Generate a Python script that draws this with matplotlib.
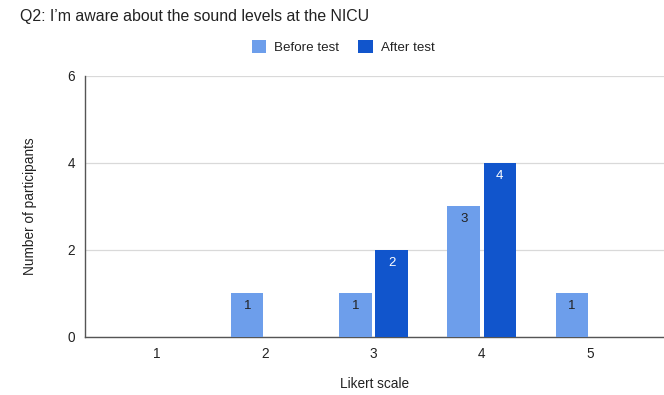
import matplotlib
matplotlib.use("Agg")
import matplotlib.pyplot as plt
import numpy as np

plt.rcParams['font.family'] = ['Liberation Sans', 'DejaVu Sans']

categories = ["1", "2", "3", "4", "5"]
before = [0, 1, 1, 3, 1]
after = [0, 0, 2, 4, 0]
yticks = [0, 2, 4, 6]

before_color = "#6d9eeb"
after_color = "#1155cc"

fig = plt.figure(figsize=(6.64, 3.95), dpi=100)
ax = fig.add_axes([0.128, 0.147, 0.872, 0.661])

x = np.arange(1, len(categories) + 1)
off = 0.167
w = 0.30
b1 = ax.bar(x - off, before, w, color=before_color, zorder=3)
b2 = ax.bar(x + off, after, w, color=after_color, zorder=3)

for rect, v in zip(b1, before):
    if v > 0:
        ax.text(rect.get_x() + rect.get_width() / 2, v - 0.3, str(v),
                ha="center", va="center", fontsize=9.5, color="#222222", zorder=4)
for rect, v in zip(b2, after):
    if v > 0:
        ax.text(rect.get_x() + rect.get_width() / 2, v - 0.3, str(v),
                ha="center", va="center", fontsize=9.5, color="white", zorder=4)

ax.set_xlim(0.333, 5.685)
ax.set_ylim(0, 6)
ax.set_xticks(x)
ax.set_xticklabels(categories)
ax.set_yticks(yticks)
ax.tick_params(axis="both", length=0, labelsize=9.8, colors="#222222")
ax.tick_params(axis="x", pad=7)
ax.tick_params(axis="y", pad=7)

ax.grid(axis="y", color="#d9d9d9", linewidth=0.9, zorder=0)
for s in ["top", "right"]:
    ax.spines[s].set_visible(False)
ax.spines["left"].set_color("#555555")
ax.spines["bottom"].set_color("#555555")
ax.spines["left"].set_linewidth(1.0)
ax.spines["bottom"].set_linewidth(1.0)

ax.set_xlabel("Likert scale", fontsize=9.8, color="#222222", labelpad=12)
ax.set_ylabel("Number of participants", fontsize=9.8, color="#222222", labelpad=22)

fig.text(20 / 664, 1 - 17 / 395, "Q2: I\u2019m aware about the sound levels at the NICU",
         fontsize=11.4, color="#222222", ha="left", va="center")

leg = fig.legend([b1, b2], ["Before test", "After test"], loc="center",
                 bbox_to_anchor=(343 / 664, 1 - 47 / 395), ncol=2, frameon=False,
                 fontsize=9.6, handlelength=1.1, handleheight=1.1, handletextpad=0.6,
                 columnspacing=1.4)
for t in leg.get_texts():
    t.set_color("#222222")

fig.savefig("out.png", dpi=100)
